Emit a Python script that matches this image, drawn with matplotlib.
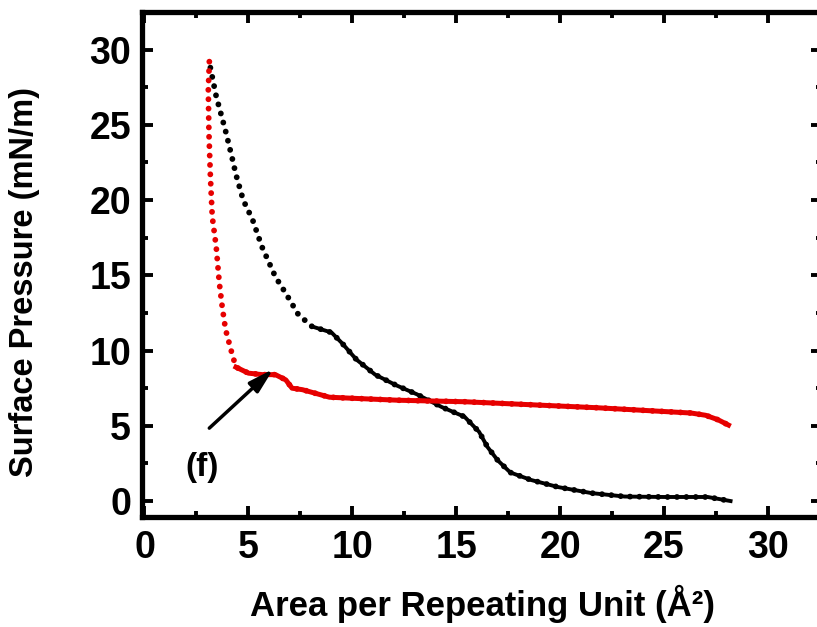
import matplotlib
matplotlib.use('Agg')
import matplotlib.pyplot as plt
from matplotlib.ticker import MultipleLocator

# isotherm readings (area per repeating unit in A^2, surface pressure in mN/m)
black_area = [3.17, 3.45, 3.9, 4.2, 4.4, 4.75, 5.2, 5.65, 6.3, 6.8, 7.4, 8.06, 9.0, 9.5,
              10.2, 11.1, 12.1, 13.1, 14.3, 15.4, 16.1, 16.5, 17.0, 17.6, 18.6, 19.9,
              21.5, 23.1, 25.0, 27.1, 28.2]
black_pressure = [28.8, 26.9, 24.6, 22.9, 21.7, 20.0, 18.7, 16.9, 14.9, 13.8, 12.4, 11.6, 11.2, 10.5,
                  9.4, 8.4, 7.7, 7.1, 6.25, 5.6, 4.6, 3.6, 2.7, 1.9, 1.4, 0.93,
                  0.53, 0.3, 0.27, 0.27, 0.0]

red_area = [3.12, 3.07, 3.1, 3.17, 3.26, 3.45, 3.6, 3.74, 3.9, 4.2, 4.4, 5.0, 5.67, 6.3,
            6.8, 7.1, 7.6, 8.9, 10.5, 12.2, 15.4, 18.6, 21.8, 25.0, 26.3, 27.0, 27.6, 28.1]
red_pressure = [29.2, 27.3, 24.5, 21.6, 18.9, 16.9, 14.5, 12.9, 11.4, 9.85, 8.9, 8.5, 8.4, 8.4,
                8.05, 7.5, 7.4, 6.9, 6.8, 6.7, 6.6, 6.4, 6.2, 5.95, 5.85, 5.7, 5.4, 5.05]

xticks = [0, 5, 10, 15, 20, 25, 30]
yticks = [0, 5, 10, 15, 20, 25, 30]

plt.rcParams['font.family'] = ['Liberation Sans', 'DejaVu Sans']
plt.rcParams['font.weight'] = 'bold'

fig = plt.figure(figsize=(8.17, 6.27), dpi=100)
ax = fig.add_axes([142 / 817, 1 - 517 / 627, (822 - 142) / 817, (517 - 12) / 627])

dots = dict(lw=4.2, linestyle=(0, (0.01, 1.6)), dash_capstyle='round')
ax.plot(black_area, black_pressure, color='black', **dots)
ax.plot(red_area, red_pressure, color='#e60000', **dots)
# flat parts of the isotherms look like a continuous trace
ax.plot(black_area[11:], black_pressure[11:], color='black', lw=2.8)
ax.plot(red_area[10:], red_pressure[10:], color='#e60000', lw=3.6)

ax.annotate('', xy=(6.3, 8.9), xytext=(3.02, 4.72),
            arrowprops=dict(arrowstyle='-|>,head_length=0.5,head_width=0.14', lw=2.5,
                            color='black', mutation_scale=30))
ax.text(2.78, 2.26, '(f)', fontsize=24, fontweight='bold', ha='center', va='center')

ax.set_xlim(-0.12, 32.6)
ax.set_ylim(-1.06, 32.5)
ax.set_xticks(xticks)
ax.set_yticks(yticks)
ax.xaxis.set_minor_locator(MultipleLocator(2.5))
ax.yaxis.set_minor_locator(MultipleLocator(2.5))
ax.tick_params(which='both', direction='in', top=True, right=True, width=2.8)
ax.tick_params(which='major', length=8, labelsize=27)
ax.tick_params(axis='x', which='major', pad=9)
ax.tick_params(axis='y', which='major', pad=8)
ax.tick_params(which='minor', length=4.5)
for s in ax.spines.values():
    s.set_linewidth(3.8)

ax.set_xlabel('Area per Repeating Unit (Å²)', fontsize=25, fontweight='bold', labelpad=14)
ax.set_ylabel('Surface Pressure (mN/m)', fontsize=23.5, fontweight='bold')
ax.yaxis.set_label_coords(-0.15, 0.465)

fig.savefig('out.png', dpi=100)
